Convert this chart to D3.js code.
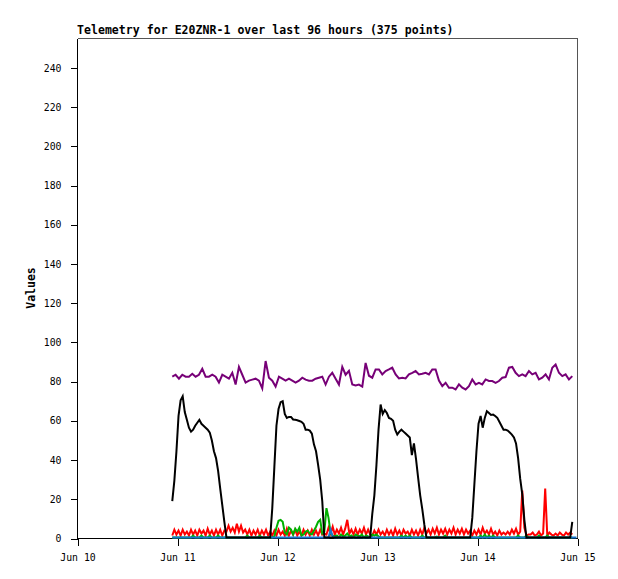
<!DOCTYPE html>
<html>
<head>
<meta charset="utf-8">
<script src="https://cdn.jsdelivr.net/npm/d3@7/dist/d3.min.js"></script>
<style>
  html, body { margin: 0; padding: 0; background: #fff; }
  svg { display: block; }
</style>
</head>
<body>
<svg id="chart" width="618" height="579"></svg>
<script>
// ---------- DATA ----------
const titleText = "Telemetry for E20ZNR-1 over last 96 hours (375 points)";
const yLabel = "Values";
const yTicks = [0, 20, 40, 60, 80, 100, 120, 140, 160, 180, 200, 220, 240];
const xTickDays = ["2024-06-10", "2024-06-11", "2024-06-12", "2024-06-13", "2024-06-14", "2024-06-15"];
const seriesStart = "2024-06-10T22:52:00Z";   // first sample
const stepMinutesPurple = 48;                  // purple sampled every 48 min
const stepMinutesOther = 30;                   // other series every 30 min

// purple (121 samples, 48-min step)
const purple = [
  82, 83, 81, 83, 82, 82, 83.5, 82, 83, 86, 82, 82, 83, 82, 79, 83, 82, 81, 84, 78,
  87, 83, 79, 80, 80.5, 81, 80, 76, 90, 81.5, 80, 77, 82, 81, 80, 81, 80, 79, 80, 81.5,
  80.5, 80, 80, 81, 81.5, 82, 78, 82, 84, 81, 78, 87, 83, 85, 78, 77.5, 78, 77, 89, 82.5,
  81.5,
  85.7, 85.7, 83.2, 84.9, 85.7, 86.6, 83.2, 81.1, 81.5, 81.1, 83.2, 84, 84.9, 83.2, 83.5,
  84, 83.2, 85.7, 85.7, 80, 77.2, 78.9, 76.4, 76.4, 75.5, 78.1, 76.4, 75.5, 77.2, 80.6,
  78.1, 78.9, 78.1, 80.6, 79.8, 79.8, 78.9, 79.8, 81.5, 81.8, 86.6, 87, 84, 82.3, 83.2,
  82.3, 84.9, 83.2, 84, 80.6, 81.5, 83.2, 80.6, 86.6, 88.2, 84, 82.3, 83.2, 80.6, 82.3
];

// black (193 samples, 30-min step)
const black = [
  18.5, 29, 44, 62, 70, 72, 64, 60, 56, 54, 55, 57, 58.5, 60, 58, 57, 56, 55, 53.5, 49.5,
  44, 40.5, 34, 25, 16.5, 8, 0,
  0, 0, 0, 0, 0, 0, 0, 0, 0, 0, 0, 0, 0, 0, 0, 0, 0, 0, 0, 0, 0,
  15, 36, 57, 65.5, 69, 69.5, 63, 61, 61.5, 61.5, 60.2, 60, 59.8, 59.4, 59, 58, 55, 55,
  54.5, 53, 47.5, 44, 37, 29.5, 18.5, 0,
  0, 0, 0, 0, 0, 0, 0, 0, 0, 0, 0, 0, 0, 0, 0, 0, 0, 0, 0, 0, 0, 0,
  12, 21.5, 37, 55, 67.8, 63, 65, 63.5, 61, 60.5, 59.5, 55, 52.5, 54, 55, 54, 53, 52, 51,
  42, 48, 40, 30.5, 21.5, 14.5, 6.5, 0,
  0, 0, 0, 0, 0, 0, 0, 0, 0, 0, 0, 0, 0, 0, 0, 0, 0, 0, 0, 0, 0,
  10, 27, 44, 58, 62, 56, 61, 64.4, 63.5, 62.5, 62.7, 62, 61, 59, 57, 55, 55, 54.5, 53.5,
  52.5, 51, 48, 40.5, 30, 22, 9, 0,
  0, 0, 0, 0, 0, 0, 0, 0, 0, 0, 0, 0, 0, 0, 0, 0, 0, 0, 0, 0, 0,
  8
];

// red (193 samples, 30-min step)
const red = [
  1, 4, 1.5, 3.5, 1, 4, 1.5, 3, 1, 4, 1.5, 3.5, 1, 4, 2, 3.5, 1, 4.5, 1.5, 3.5, 1, 4, 1.5, 4, 1, 3.5,
  3, 6, 3, 5, 2.5, 7, 3, 6, 2.5,
  4, 1.5, 4, 1, 3.5, 1.5, 4, 1, 3.5, 1.5, 4, 1, 3,
  1, 3.5, 1, 4, 1.5, 3, 1, 4.5, 1, 3.5, 1.5, 4, 1, 3, 1, 4, 1.5, 3.5, 1, 4, 1.5, 3.5, 1, 4, 1.5, 2,
  1.5, 5, 2, 5.5, 1.5, 4, 2, 5, 1.5, 4.5, 9, 2, 4, 1.5, 4.5, 1.5, 4, 2, 5, 1.5, 4, 1.5,
  1, 3.5, 1.5, 4, 1.5, 3, 1, 4, 1.5, 3.5, 1, 4.5, 1.5, 3.5, 1, 4, 2, 3, 1, 4, 1.5, 3.5, 1, 4,
  1.5, 5, 2, 4, 1.5, 4.5, 2, 5, 1.5, 4, 2, 4.5, 1.5, 4, 2, 5, 1.5, 4, 2, 4.5, 1.5, 4, 2, 3.5,
  1, 3.5, 1.5, 4, 1.5, 5, 2, 3.5, 1.5, 4.5, 1.5, 3, 1, 3.5, 1.5, 2.5, 1.5, 3, 1.5, 4, 2, 4.5, 1.5, 3,
  24, 5, 1, 1.5, 1.5, 2.5, 1, 1.5, 3, 1, 2, 25, 1, 2.5, 1.5, 1, 2, 1, 2.5, 1.5, 1, 2.5, 1.5, 2.5, 1.5
];

// green (193 samples, 30-min step)
const green = [
  0, 0, 0, 0, 0, 0, 0, 0, 0, 0, 1, 0, 0, 0, 1, 0, 0, 0, 1, 0, 0, 0, 1, 0, 0, 0,
  0, 0, 0, 0, 0, 0, 0, 0, 0, 0, 1, 0, 0, 0, 0, 0, 1, 0, 0, 0, 0, 0,
  0, 0.5, 5, 8.5, 9, 8, 2.5, 1.5, 5, 4, 1.5, 4.5, 3, 5, 1, 1.5, 3, 3.5, 2, 1.5, 3.5, 5.5, 8, 9,
  2, 3, 15, 10, 2, 1,
  0.5, 1, 0, 1.5, 0.5, 1, 2, 0.5, 1, 0, 1.5, 1, 0.5, 1.5, 0, 1, 0.5, 0,
  1.5, 1, 1.5, 0.5, 0, 0, 0, 0, 0, 0, 0, 0, 0, 0, 1, 0, 1, 0, 1, 0, 0, 0, 0, 0, 1, 0,
  0, 0, 0, 0, 0, 0.5, 0, 0, 0, 1, 0, 0, 0, 0, 0, 0, 0, 0, 0, 0, 0, 0, 0, 0, 0, 0,
  1, 0, 1.5, 0, 1, 0, 1, 0, 0, 0, 0, 0, 0, 0, 0, 0, 0, 0, 1, 0, 0, 0, 1, 0, 0, 0,
  0, 0, 1, 0, 0, 0, 1, 0, 0, 0, 0, 0, 0, 0, 0, 0, 0, 0, 0
];

// blue (193 samples, 30-min step)
const blue = [
  0, 0, 0, 0, 0, 0, 0, 0, 0, 0, 0, 0, 0, 0, 0, 0, 0, 0, 0, 0, 0, 0, 0, 0, 0, 0,
  0, 0, 0, 0, 0, 0, 0, 0, 0, 0, 0, 0, 0, 0, 0, 0, 0, 0, 0, 0, 0, 0,
  0, 0, 0, 0, 0, 0, 0, 0, 0, 0, 0, 0, 0, 0, 0, 0, 0, 0, 0, 0, 0, 0, 0, 0, 0, 0,
  0, 0, 4, 0.5, 0, 0,
  0, 0, 0, 0, 0, 0, 0, 0, 0, 0, 0, 0, 0, 0, 0, 0, 0, 0,
  0, 0, 0, 0, 0, 0, 0, 0, 0, 0, 0, 0, 0, 0, 0, 0, 0, 0, 0, 0, 0, 0, 0, 0, 0, 0,
  0, 0, 0, 0, 0, 0, 0, 0, 0, 0, 0, 0, 0, 0, 0, 0, 0, 0, 0, 0, 0, 0, 0, 0, 0, 0,
  0, 0, 0, 0, 0, 0, 0, 0, 0, 0, 0, 0, 0, 0, 0, 0, 0, 0, 0, 0, 0, 0, 0, 0, 0, 0,
  0, 0, 0, 0, 0, 0, 0, 0, 0, 0, 0, 0, 0, 0, 0, 0, 0, 0, 0
];

const seriesList = [
  { name: "red", values: red, step: stepMinutesOther, color: "#ff0000" },
  { name: "green", values: green, step: stepMinutesOther, color: "#00b000" },
  { name: "blue", values: blue, step: stepMinutesOther, color: "#1874cd" },
  { name: "black", values: black, step: stepMinutesOther, color: "#000000" },
  { name: "purple", values: purple, step: stepMinutesPurple, color: "#770077" }
];

// ---------- CHART ----------
const svg = d3.select("#chart");
const plot = { left: 77, right: 577, top: 38, bottom: 538 };

const x = d3.scaleUtc()
  .domain([new Date(xTickDays[0] + "T00:00:00Z"), new Date(xTickDays[xTickDays.length - 1] + "T00:00:00Z")])
  .range([plot.left, plot.right]);
const y = d3.scaleLinear().domain([0, 255]).range([plot.bottom, plot.top]);

const t0 = new Date(seriesStart).getTime();

// frame (top and right, grey)
svg.append("path")
  .attr("d", `M${plot.left + 0.5},${plot.top + 0.5}H${plot.right + 0.5}V${plot.bottom + 0.5}`)
  .attr("fill", "none").attr("stroke", "#555").attr("stroke-width", 1)
  .attr("shape-rendering", "crispEdges");

// y axis
const yAxis = d3.axisLeft(y).tickValues(yTicks).tickSize(7).tickPadding(9);
const gy = svg.append("g")
  .attr("transform", `translate(${plot.left + 0.5},0.5)`)
  .call(yAxis);
gy.select(".domain").attr("d", `M0,${plot.top}V${plot.bottom}`).attr("stroke", "#000").attr("shape-rendering", "crispEdges");
gy.selectAll(".tick line").attr("stroke", "#000").attr("shape-rendering", "crispEdges");
gy.selectAll(".tick text")
  .attr("font-family", "'DejaVu Sans Mono', monospace")
  .attr("font-size", "9.8px")
  .attr("fill", "#000");

// x axis
const xAxis = d3.axisBottom(x)
  .tickValues(xTickDays.map(d => new Date(d + "T00:00:00Z")))
  .tickFormat(d3.utcFormat("%b %d"))
  .tickSize(7).tickPadding(0);
const gx = svg.append("g")
  .attr("transform", `translate(0.5,${plot.bottom + 0.5})`)
  .call(xAxis);
gx.select(".domain").attr("d", `M${plot.left},0H${plot.right}`).attr("stroke", "#000").attr("shape-rendering", "crispEdges");
gx.selectAll(".tick line").attr("stroke", "#000").attr("shape-rendering", "crispEdges");
gx.selectAll(".tick text")
  .attr("y", 22).attr("dy", null)
  .attr("font-family", "'DejaVu Sans Mono', monospace")
  .attr("font-size", "9.8px")
  .attr("fill", "#000");

// lines (drawn over the axes)
const line = d3.line().x(d => x(d.t)).y(d => y(d.v) - 0.5);
seriesList.forEach(s => {
  const pts = s.values.map((v, i) => ({ t: new Date(t0 + i * s.step * 60000), v }));
  svg.append("path")
    .datum(pts)
    .attr("d", line)
    .attr("fill", "none")
    .attr("stroke", s.color)
    .attr("stroke-width", 2)
    .attr("stroke-linejoin", "miter")
    .attr("stroke-linecap", "butt");
});

// title
svg.append("text")
  .attr("x", plot.left).attr("y", 34)
  .attr("font-family", "'DejaVu Sans Mono', monospace")
  .attr("font-weight", "bold")
  .attr("font-size", "11.5px")
  .attr("letter-spacing", "0.05px")
  .attr("fill", "#000")
  .text(titleText);

// y label
svg.append("text")
  .attr("transform", `translate(35,${(plot.top + plot.bottom) / 2}) rotate(-90)`)
  .attr("text-anchor", "middle")
  .attr("font-family", "'DejaVu Sans Mono', monospace")
  .attr("font-weight", "bold")
  .attr("font-size", "11.5px")
  .attr("fill", "#000")
  .text(yLabel);
</script>
</body>
</html>
